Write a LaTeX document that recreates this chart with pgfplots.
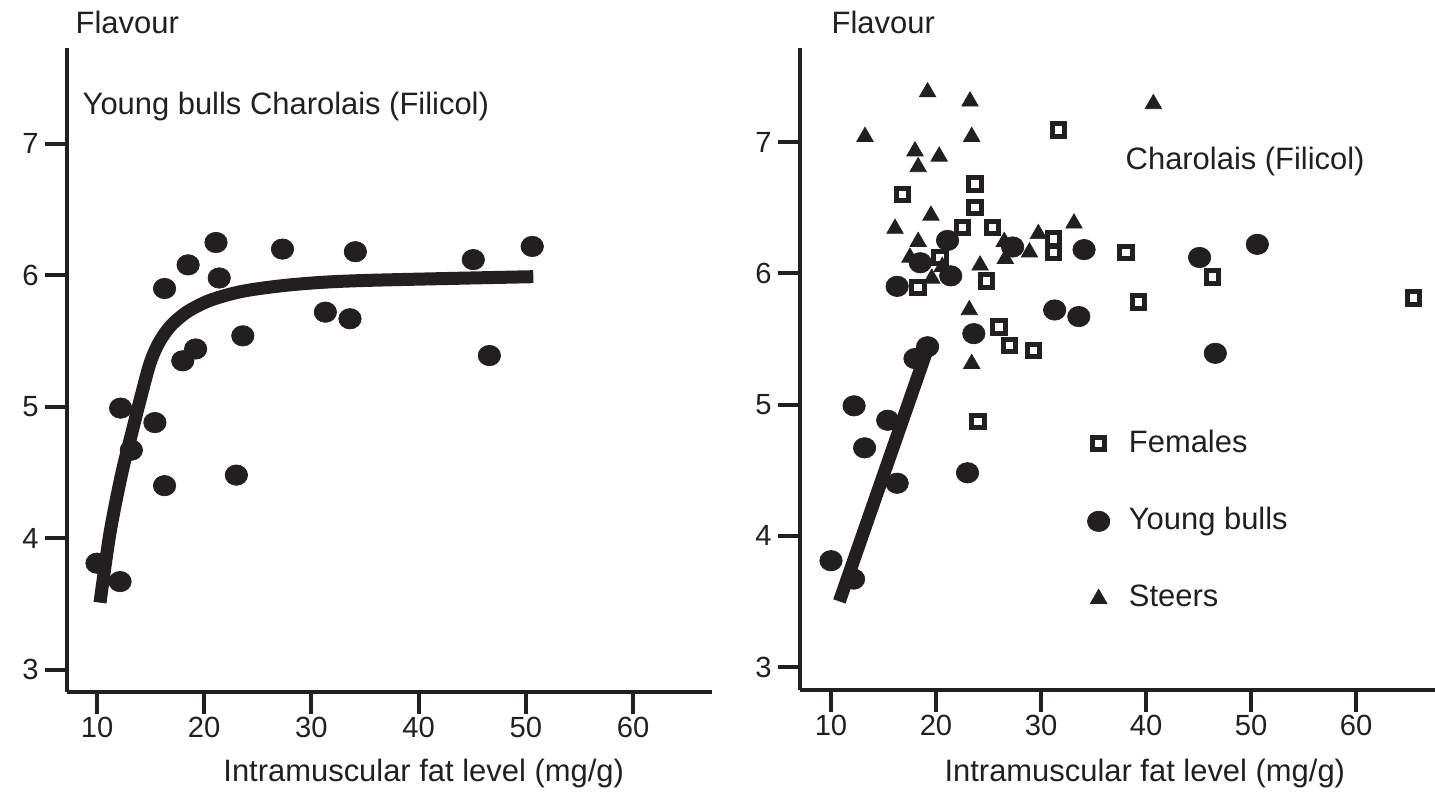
\documentclass[border=0pt]{standalone}
\usepackage{fontspec}
\setmainfont{Liberation Sans}
\usepackage{pgfplots}
\usepackage{pgfplotstable}
\pgfplotsset{compat=1.18}
\definecolor{ink}{RGB}{35,31,32}

% young bulls, same data in both panels
\pgfplotstableread{
x y
10.0 3.81
12.15 3.67
12.2 4.99
13.2 4.67
15.4 4.88
16.3 4.40
16.3 5.90
18.5 6.08
18.0 5.35
19.2 5.44
21.1 6.25
21.4 5.98
23.6 5.54
23.0 4.48
27.3 6.20
31.3 5.72
33.6 5.67
34.1 6.18
45.1 6.12
46.6 5.39
50.6 6.22
}\bulls

\pgfplotstableread{
x y
31.65 7.09
16.83 6.60
23.71 6.68
23.71 6.50
22.54 6.35
25.4 6.35
31.17 6.26
31.17 6.16
38.1 6.16
20.38 6.12
24.83 5.94
18.3 5.89
26.0 5.59
27.0 5.45
29.27 5.41
24.0 4.87
46.35 5.97
39.3 5.78
65.46 5.81
}\females

\pgfplotstableread{
x y
19.2 7.38
23.24 7.31
13.24 7.04
23.4 7.04
18.0 6.93
20.3 6.89
18.3 6.81
19.52 6.44
16.1 6.34
18.3 6.24
29.75 6.30
33.14 6.38
28.9 6.16
26.5 6.24
26.6 6.11
17.52 6.12
24.2 6.06
19.6 5.96
20.6 6.05
23.17 5.72
23.4 5.31
40.7 7.29
}\steers

\pgfplotsset{
  flav/.style={
    scale only axis,
    axis x line=bottom, axis y line=left,
    axis line style={-, line width=0.45mm, draw=ink},
    x axis line style={-, line width=0.45mm, draw=ink},
    y axis line style={-, line width=0.45mm, draw=ink},
    tick style={line width=0.4mm, ink},
    tick align=outside,
    major tick length=2.2mm,
    xtick={10,20,...,60}, ytick={3,...,7},
    minor tick num=0,
    /pgf/number format/assume math mode=true,
    ticklabel style={font=\fontsize{8.3}{10}\selectfont, text=ink},
    xticklabel style={yshift=0.9mm},
    yticklabel style={xshift=0.6mm},
    every axis x label/.style={font=\fontsize{8.8}{10}\selectfont, text=ink, anchor=center},
    every axis y label/.style={font=\fontsize{8.8}{10}\selectfont, text=ink, anchor=west, rotate=0, inner sep=0pt},
    clip=false,
  },
  bull/.style={only marks, mark=*, mark size=1.02mm, mark options={xscale=1.1, fill=ink, draw=ink, line width=0.2pt}},
  fem/.style={only marks, mark=square, mark size=0.62mm, mark options={draw=ink, fill=white, line width=0.5mm}},
  steer/.style={only marks, mark=triangle*, mark size=0.95mm, mark options={fill=ink, draw=ink, line width=0.2pt}},
}

\begin{document}
\begin{tikzpicture}
% left panel
\begin{axis}[flav,
  at={(0mm,0mm)},
  width=64.5mm, height=64.4mm,
  xmin=7.2, xmax=67.37, ymin=2.83, ymax=7.73,
  xlabel={Intramuscular fat level (mg/g)},
  x label style={at={(axis description cs:0.553,0)}, yshift=-8.2mm},
  ylabel={Flavour},
  y label style={at={(axis description cs:0,1)}, xshift=0.8mm, yshift=2.6mm},
]
\addplot[bull] table {\bulls};
\addplot[ink, line width=1.3mm, smooth, line cap=butt] coordinates {
  (10.28,3.51) (11.21,4.04) (12.30,4.49) (13.24,4.80) (14.17,5.10) (14.94,5.33)
  (15.72,5.48) (16.81,5.61) (18.37,5.72) (20.54,5.81) (23.65,5.88) (28.3,5.93)
  (34.5,5.96) (50.7,5.99)
};
\node[anchor=west, font=\fontsize{8.8}{10}\selectfont, text=ink, inner sep=0pt] at (axis cs:8.6,7.285) {Young bulls Charolais (Filicol)};
\end{axis}

% right panel
\begin{axis}[flav,
  at={(73.3mm,0.2mm)},
  width=63.5mm, height=64.2mm,
  xmin=7.05, xmax=67.52, ymin=2.825, ymax=7.716,
  xlabel={Intramuscular fat level (mg/g)},
  x label style={at={(axis description cs:0.543,0)}, yshift=-8.4mm},
  ylabel={Flavour},
  y label style={at={(axis description cs:0,1)}, xshift=3.1mm, yshift=2.6mm},
  legend style={at={(axis cs:33.35,4.92)}, anchor=north west, draw=none, fill=none,
    font=\fontsize{8.8}{10}\selectfont, text=ink, row sep=3.6mm, column sep=1.2mm},
  legend cell align=left,
  legend image code/.code={\draw[#1] plot coordinates {(1mm,0mm)};},
]
\addplot[steer, forget plot] table {\steers};
\addplot[fem, forget plot] table {\females};
\addplot[bull, forget plot] table {\bulls};
\addplot[ink, line width=1.3mm, line cap=butt, forget plot] coordinates {(10.8,3.5) (19.3,5.45)};
\addlegendimage{fem}
\addlegendentry{Females}
\addlegendimage{bull}
\addlegendentry{Young bulls}
\addlegendimage{steer}
\addlegendentry{Steers}
\node[anchor=west, font=\fontsize{8.8}{10}\selectfont, text=ink, inner sep=0pt] at (axis cs:38.0,6.855) {Charolais (Filicol)};
\end{axis}

\pgfresetboundingbox
\path (-6.7mm,-10.2mm) rectangle (136.8mm,69.2mm);
\end{tikzpicture}
\end{document}
